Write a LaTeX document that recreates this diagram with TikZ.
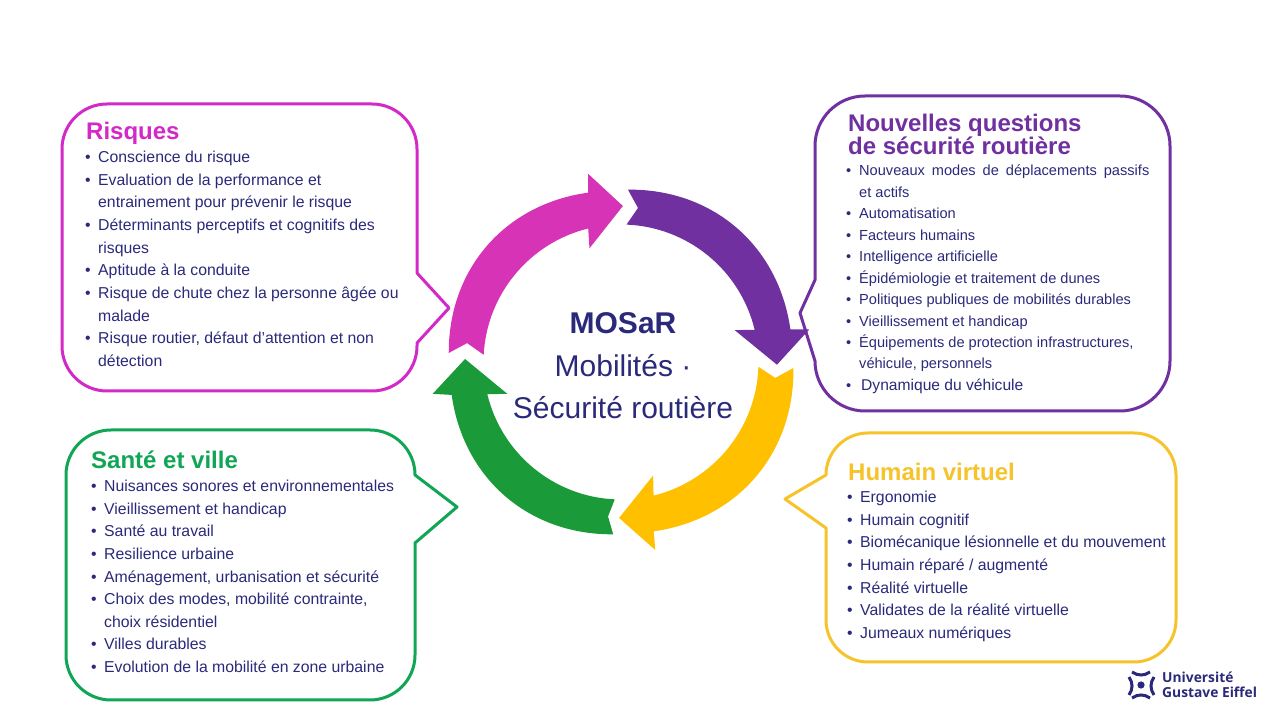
\documentclass[tikz,border=0pt]{standalone}
\usepackage{fontspec}
\setmainfont{Liberation Sans}
\newfontfamily\logofont{Open Sans}
\usetikzlibrary{calc}
\definecolor{risquecol}{HTML}{D633B6}
\definecolor{risqueline}{HTML}{D229C8}
\definecolor{questcol}{HTML}{7030A0}
\definecolor{humaincol}{HTML}{FFC000}
\definecolor{humainline}{HTML}{F6C32A}
\definecolor{santecol}{HTML}{1A9A38}
\definecolor{santeline}{HTML}{10A655}
\definecolor{navy}{HTML}{2B2A7A}
\tikzset{
  callout/.style={line width=3pt,fill=white,line join=round},
  title/.style={anchor=north west,inner sep=0pt,align=left,font=\fontsize{24}{23}\selectfont\bfseries},
  body/.style={anchor=north west,inner sep=0pt,align=left,text=navy},
  center/.style={text=navy,font=\fontsize{30}{30}\selectfont},
}
\newcommand{\itm}[1]{\makebox[13pt][l]{\textbullet}#1\\}
\newcommand{\cont}[1]{\hspace*{13pt}#1\\}
\begin{document}
\begin{tikzpicture}[x=1pt,y=1pt]
\useasboundingbox (0,0) rectangle (1280,720);
\fill[white] (0,0) rectangle (1280,720);
% callouts
\draw[callout,draw=risqueline] (449,412) -- (417,377) -- (417,374) arc[start angle=0,end angle=-90,radius=45] -- (107,329) arc[start angle=-90,end angle=-180,radius=45] -- (62,571) arc[start angle=180,end angle=90,radius=45] -- (372,616) arc[start angle=90,end angle=0,radius=45] -- (417,447) -- cycle;
\draw[callout,draw=santeline] (457,213) -- (415,177) -- (415,65) arc[start angle=0,end angle=-90,radius=45] -- (111,20) arc[start angle=-90,end angle=-180,radius=45] -- (66,245) arc[start angle=180,end angle=90,radius=45] -- (370,290) arc[start angle=90,end angle=0,radius=45] -- cycle;
\draw[callout,draw=questcol] (800,407) -- (815,359) arc[start angle=180,end angle=270,radius=50] -- (1120,309) arc[start angle=-90,end angle=0,radius=50] -- (1170,574) arc[start angle=0,end angle=90,radius=50] -- (865,624) arc[start angle=90,end angle=180,radius=50] -- (815,440) -- cycle;
\draw[callout,draw=humainline] (785,221) -- (826,192) -- (826,100) arc[start angle=180,end angle=270,radius=42] -- (1134,58) arc[start angle=-90,end angle=0,radius=42] -- (1176,245) arc[start angle=0,end angle=90,radius=42] -- (868,287) arc[start angle=90,end angle=180,radius=42] -- cycle;
% ring
\begin{scope}[shift={(621,358)}]
\foreach \col/\ta/\no/\nk/\bo/\tp/\bi/\ni in {risquecol/177/173/101/99.9/89.3/105.5/103.8,
  questcol/87.7/83.7/10.9/9.8/-1/15.7/13.5,
  humaincol/-2/-5.9/-79/-79.7/-90.7/-74.2/-76.3,
  santecol/-92.6/-94.8/-169/-170.4/-181.1/-164.3/-166.5}
  \fill[\col] (\ta:172.5) .. controls ({\ta+(\nk-(\ta))/3}:196) and ({\ta+2*(\nk-(\ta))/3}:196) .. (\nk:172.5) -- (\bo:191) -- (\tp:156) -- (\bi:118) -- (\ni:137.5) arc[start angle=\ni,end angle=\ta,radius=137.5] -- (\no:155) -- cycle;
\end{scope}
\node[center] (mosar) at (623,397) {\bfseries MOSaR};
\node[center] (mobil) at (623,354) {Mobilités ·};
\node[center] (secur) at (623,312) {Sécurité routière};
% risques
\node[title,text=risqueline] (risquetitle) at (86,598) {Risques};
\node[body,font=\fontsize{15.8}{22.65}\selectfont] (risquetext) at (85,569) {\itm{Conscience du risque}
\itm{Evaluation de la performance et}
\cont{entrainement pour prévenir le risque}
\itm{Déterminants perceptifs et cognitifs des}
\cont{risques}
\itm{Aptitude à la conduite}
\itm{Risque de chute chez la personne âgée ou}
\cont{malade}
\itm{Risque routier, défaut d’attention et non}
\cont{détection}};
% questions
\node[title,text=questcol] (questtitle) at (848,606) {Nouvelles questions\\de sécurité routière};
\node[body,font=\fontsize{14.6}{21.45}\selectfont] (questtext) at (846,555) {\spaceskip=7pt\relax
\itm{Nouveaux modes de déplacements passifs}
\cont{et actifs}
\itm{Automatisation}
\itm{Facteurs humains}
\itm{Intelligence artificielle}
\itm{Épidémiologie et traitement de dunes}
\itm{Politiques publiques de mobilités durables}
\itm{Vieillissement et handicap}
\itm{Équipements de protection infrastructures,}
\cont{véhicule, personnels}
\itm{\fontsize{15.6}{21.45}\selectfont\hspace*{2pt}Dynamique du véhicule}};
% sante
\node[title,text=santeline] (santetitle) at (91,269) {Santé et ville};
\node[body,font=\fontsize{15.8}{22.6}\selectfont] (santetext) at (91,240) {\itm{Nuisances sonores et environnementales}
\itm{Vieillissement et handicap}
\itm{Santé au travail}
\itm{Resilience urbaine}
\itm{Aménagement, urbanisation et sécurité}
\itm{Choix des modes, mobilité contrainte,}
\cont{choix résidentiel}
\itm{Villes durables}
\itm{Evolution de la mobilité en zone urbaine}};
% humain
\node[title,text=humainline] (humaintitle) at (848,257) {Humain virtuel};
\node[body,font=\fontsize{15.8}{22.6}\selectfont] (humaintext) at (847,229) {\itm{Ergonomie}
\itm{Humain cognitif}
\itm{Biomécanique lésionnelle et du mouvement}
\itm{Humain réparé / augmenté}
\itm{Réalité virtuelle}
\itm{Validates de la réalité virtuelle}
\itm{Jumeaux numériques}};
% logo
\fill[navy] (1141,35) circle (3.6);
\draw[navy,line width=3pt] (1132,48) to[bend right=35] (1150,48);
\draw[navy,line width=3pt] (1132,22) to[bend left=35] (1150,22);
\draw[navy,line width=3pt] (1129,43) to[bend left=35] (1129,25);
\draw[navy,line width=3pt] (1154,43) to[bend right=35] (1154,25);
\node[anchor=west,inner sep=0pt,align=left,text=navy,font=\logofont\fontsize{13.8}{15}\selectfont\bfseries] (logo) at (1162,35) {Université\\Gustave Eiffel};
\end{tikzpicture}
\end{document}
